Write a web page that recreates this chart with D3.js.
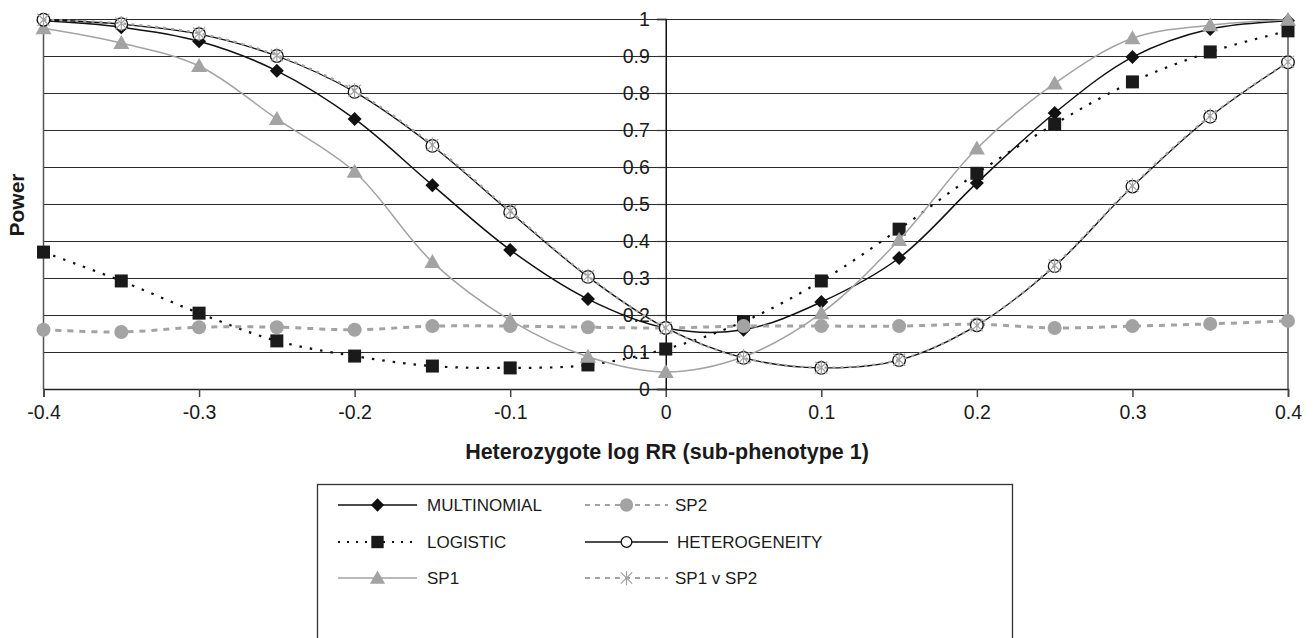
<!DOCTYPE html>
<html>
<head>
<meta charset="utf-8">
<script src="https://cdn.jsdelivr.net/npm/d3@7"></script>
<style>
  body { margin: 0; background: white; }
  text { font-family: "Liberation Sans", Arial, sans-serif; }
</style>
</head>
<body>
<script>
// x values (heterozygote log RR)
var xs = [-0.4, -0.35, -0.3, -0.25, -0.2, -0.15, -0.1, -0.05, 0, 0.05, 0.1, 0.15, 0.2, 0.25, 0.3, 0.35, 0.4];

// power per method
var multinomial = [0.995, 0.978, 0.94, 0.86, 0.73, 0.551, 0.376, 0.243, 0.165, 0.16, 0.235, 0.354, 0.557, 0.746, 0.897, 0.973, 0.995];
var logistic = [0.37, 0.292, 0.205, 0.13, 0.089, 0.062, 0.057, 0.065, 0.108, 0.182, 0.292, 0.432, 0.583, 0.716, 0.83, 0.911, 0.968];
var sp1 = [0.975, 0.935, 0.873, 0.73, 0.587, 0.343, 0.186, 0.087, 0.046, 0.087, 0.205, 0.403, 0.65, 0.826, 0.948, 0.983, 0.998];
var sp2 = [0.16, 0.154, 0.167, 0.167, 0.16, 0.17, 0.17, 0.167, 0.165, 0.17, 0.17, 0.17, 0.175, 0.165, 0.17, 0.176, 0.184];
var heterogeneity = [0.998, 0.986, 0.959, 0.9, 0.803, 0.657, 0.478, 0.303, 0.165, 0.084, 0.057, 0.078, 0.172, 0.332, 0.547, 0.736, 0.883];
var sp1vsp2 = [0.998, 0.988, 0.961, 0.902, 0.806, 0.66, 0.481, 0.305, 0.165, 0.084, 0.058, 0.079, 0.172, 0.334, 0.549, 0.738, 0.884];

var xTicks = [-0.4, -0.3, -0.2, -0.1, 0, 0.1, 0.2, 0.3, 0.4];
var yTicks = [0, 0.1, 0.2, 0.3, 0.4, 0.5, 0.6, 0.7, 0.8, 0.9, 1];

var width = 1314, height = 638;
var svg = d3.select("body").append("svg")
    .attr("width", width)
    .attr("height", height);

var x = d3.scaleLinear().domain([-0.4, 0.4]).range([43.5, 1288]);
var y = d3.scaleLinear().domain([0, 1]).range([389, 19]);

var grey = "#a3a3a3";

// series styles
var series = [
  {name: "MULTINOMIAL", values: multinomial, stroke: "#111", width: 1.5, dash: null, marker: "diamond", mfill: "#111", mstroke: "#111"},
  {name: "LOGISTIC", values: logistic, stroke: "#111", width: 2.2, dash: "2.5,8", marker: "square", mfill: "#1a1a1a", mstroke: "#1a1a1a"},
  {name: "SP1", values: sp1, stroke: grey, width: 1.5, dash: null, marker: "triangle", mfill: grey, mstroke: grey},
  {name: "SP2", values: sp2, stroke: grey, width: 3, dash: "6,6", marker: "circle", mfill: grey, mstroke: grey},
  {name: "HETEROGENEITY", values: heterogeneity, stroke: "#111", width: 1.3, dash: null, marker: "open", mfill: "white", mstroke: "#111"},
  {name: "SP1 v SP2", values: sp1vsp2, stroke: grey, width: 2.2, dash: "3,5", marker: "star", mfill: "none", mstroke: grey}
];

// plain hyphen for negatives, as in the figure
function fmt(d) {
  if (d === 0) return "0";
  if (d === 1) return "1";
  return (d < 0 ? "-" : "") + d3.format(".1f")(Math.abs(d));
}

// gridlines
svg.append("g")
    .attr("class", "grid")
  .selectAll("line")
  .data(yTicks.filter(function(d) { return d > 0; }))
  .enter().append("line")
    .attr("x1", x(-0.4))
    .attr("x2", x(0.4))
    .attr("y1", function(d) { return Math.round(y(d)) + 0.5; })
    .attr("y2", function(d) { return Math.round(y(d)) + 0.5; })
    .attr("stroke", "#2a2a2a")
    .attr("stroke-width", 1.2);

// plot frame sides
svg.append("line")
    .attr("x1", x(-0.4)).attr("x2", x(-0.4))
    .attr("y1", y(1)).attr("y2", y(0))
    .attr("stroke", "#555").attr("stroke-width", 1.5);
svg.append("line")
    .attr("x1", x(0.4)).attr("x2", x(0.4))
    .attr("y1", y(1)).attr("y2", y(0))
    .attr("stroke", "#555").attr("stroke-width", 1.5);

// x axis on y=0
var xAxis = svg.append("g")
    .attr("transform", "translate(0," + y(0) + ")")
    .call(d3.axisBottom(x).tickValues(xTicks).tickSize(8).tickPadding(8).tickFormat(fmt));
xAxis.select(".domain").attr("stroke", "#222").attr("stroke-width", 1.5);
xAxis.selectAll(".tick line").attr("stroke", "#444").attr("stroke-width", 1.5);
xAxis.selectAll("text")
    .attr("font-size", 19.5)
    .attr("fill", "#1a1a1a")
    .style("font-family", "'Liberation Sans', Arial, sans-serif");

// y axis at x=0
var yAxis = svg.append("g")
    .attr("transform", "translate(" + x(0) + ",0)")
    .call(d3.axisLeft(y).tickValues(yTicks).tickSize(9).tickPadding(7).tickFormat(fmt));
yAxis.select(".domain").attr("stroke", "#111").attr("stroke-width", 1.5);
yAxis.selectAll(".tick line").attr("stroke", "#333").attr("stroke-width", 1.2);
yAxis.selectAll("text")
    .attr("font-size", 19.5)
    .attr("fill", "#1a1a1a")
    .style("font-family", "'Liberation Sans', Arial, sans-serif");

// axis titles
svg.append("text")
    .attr("x", 667)
    .attr("y", 459)
    .attr("text-anchor", "middle")
    .attr("font-size", 21.5)
    .attr("font-weight", "bold")
    .attr("fill", "#1a1a1a")
    .text("Heterozygote log RR (sub-phenotype 1)");

svg.append("text")
    .attr("transform", "translate(24,205) rotate(-90)")
    .attr("text-anchor", "middle")
    .attr("font-size", 21)
    .attr("font-weight", "bold")
    .attr("fill", "#1a1a1a")
    .text("Power");

// markers
function drawMarker(g, s, cx, cy, scale) {
  scale = scale || 1;
  if (s.marker === "diamond") {
    var r = 7 * scale;
    g.append("path")
      .attr("d", "M" + cx + "," + (cy - r) + "L" + (cx + r) + "," + cy + "L" + cx + "," + (cy + r) + "L" + (cx - r) + "," + cy + "Z")
      .attr("fill", s.mfill);
  } else if (s.marker === "square") {
    var h = 6.5 * scale;
    g.append("rect")
      .attr("x", cx - h).attr("y", cy - h)
      .attr("width", 2 * h).attr("height", 2 * h)
      .attr("fill", s.mfill);
  } else if (s.marker === "triangle") {
    var t = 8 * scale;
    g.append("path")
      .attr("d", "M" + cx + "," + (cy - t) + "L" + (cx + t) + "," + (cy + t * 0.75) + "L" + (cx - t) + "," + (cy + t * 0.75) + "Z")
      .attr("fill", s.mfill);
  } else if (s.marker === "circle") {
    g.append("circle")
      .attr("cx", cx).attr("cy", cy).attr("r", 7 * scale)
      .attr("fill", s.mfill);
  } else if (s.marker === "open") {
    g.append("circle")
      .attr("cx", cx).attr("cy", cy).attr("r", 6.3 * scale)
      .attr("fill", "white")
      .attr("stroke", s.mstroke)
      .attr("stroke-width", 1.3);
  } else if (s.marker === "star") {
    var a = 7.5 * scale;
    var d = "M" + cx + "," + (cy - a) + "L" + cx + "," + (cy + a) +
            "M" + (cx - a * 0.8) + "," + (cy - a * 0.8) + "L" + (cx + a * 0.8) + "," + (cy + a * 0.8) +
            "M" + (cx - a * 0.8) + "," + (cy + a * 0.8) + "L" + (cx + a * 0.8) + "," + (cy - a * 0.8);
    g.append("path")
      .attr("d", d)
      .attr("stroke", s.mstroke)
      .attr("stroke-width", 1.2)
      .attr("fill", "none");
  }
}

var line = d3.line()
    .x(function(d) { return x(d[0]); })
    .y(function(d) { return y(d[1]); })
    .curve(d3.curveCatmullRom.alpha(0.5));

series.forEach(function(s) {
  var pts = xs.map(function(v, i) { return [v, s.values[i]]; });
  var g = svg.append("g").attr("class", "series");
  g.append("path")
    .datum(pts)
    .attr("d", line)
    .attr("fill", "none")
    .attr("stroke", s.stroke)
    .attr("stroke-width", s.width)
    .attr("stroke-dasharray", s.dash);
  pts.forEach(function(p) { drawMarker(g, s, x(p[0]), y(p[1]), 1); });
});

// legend
var legend = svg.append("g").attr("class", "legend");
legend.append("rect")
    .attr("x", 317.5)
    .attr("y", 484.5)
    .attr("width", 695)
    .attr("height", 200)
    .attr("fill", "white")
    .attr("stroke", "#333")
    .attr("stroke-width", 1.3);

var legendPos = [
  {x1: 338, x2: 417, tx: 427, y: 505},
  {x1: 338, x2: 417, tx: 427, y: 542},
  {x1: 338, x2: 417, tx: 427, y: 578},
  {x1: 585, x2: 668, tx: 675, y: 505},
  {x1: 585, x2: 668, tx: 677, y: 542},
  {x1: 585, x2: 668, tx: 675, y: 578}
];

series.forEach(function(s, i) {
  var p = legendPos[i];
  var g = legend.append("g");
  g.append("line")
    .attr("x1", p.x1).attr("x2", p.x2)
    .attr("y1", p.y).attr("y2", p.y)
    .attr("stroke", s.stroke)
    .attr("stroke-width", s.marker === "square" ? 2 : (s.dash ? 2 : 1.3))
    .attr("stroke-dasharray", s.marker === "square" ? "2,7" : (s.dash ? "5,5" : null));
  drawMarker(g, s, (p.x1 + p.x2) / 2, p.y, s.marker === "open" ? 0.85 : 0.95);
  g.append("text")
    .attr("x", p.tx)
    .attr("y", p.y + 6)
    .attr("font-size", 17)
    .attr("fill", "#1a1a1a")
    .text(s.name);
});
</script>
</body>
</html>
